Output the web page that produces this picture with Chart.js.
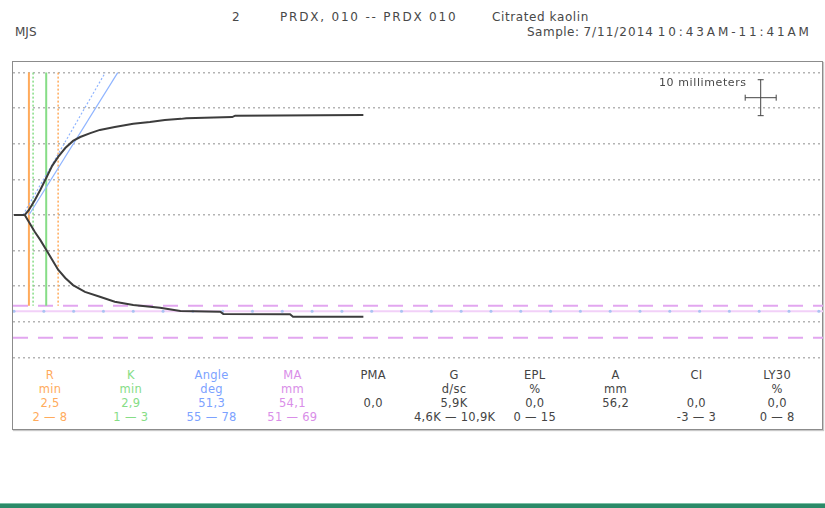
<!DOCTYPE html>
<html>
<head>
<meta charset="utf-8">
<script src="https://cdn.jsdelivr.net/npm/chart.js@4/dist/chart.umd.min.js"></script>
<style>
  body { margin: 0; width: 825px; height: 508px; background: #fff; position: relative; overflow: hidden;
         font-family: "DejaVu Sans", Verdana, sans-serif; color: #484848; }
  .t { position: absolute; font-size: 12px; line-height: 14px; white-space: nowrap; }
  #box { position: absolute; left: 12px; top: 61px; width: 809px; height: 367px; border: 1px solid #8c8c8c;
         box-shadow: 1px 1px 1px #c8c8c8; }
  #plot { position: absolute; left: 13px; top: 63px; }
  .col { position: absolute; top: 368px; width: 80px; text-align: center; font-size: 11.5px; line-height: 14px;
         letter-spacing: 0.3px; white-space: nowrap; }
  #bar { position: absolute; left: 0; top: 503px; width: 825px; height: 5px; background: #2b8a68; border-top: 1px solid #7cc0a6; }
</style>
</head>
<body>
<div class="t" style="left:232px;top:10px">2</div>
<div class="t" style="left:280px;top:10px;letter-spacing:1.8px">PRDX, 010 -- PRDX 010</div>
<div class="t" style="left:492px;top:10px;letter-spacing:0.6px">Citrated kaolin</div>
<div class="t" style="left:15px;top:25px">MJS</div>
<div class="t" style="left:527px;top:25px"><span style="letter-spacing:0.5px">Sample:</span>
  <span style="letter-spacing:1px">7/11/2014</span>
  <span style="letter-spacing:2.9px">10:43AM-11:41AM</span></div>
<div id="box"></div>
<canvas id="plot" width="810" height="300"></canvas>
<div class="t" style="left:659px;top:76px;font-size:11px;letter-spacing:0.6px">10 millimeters</div>
<div id="table"></div>
<div id="bar"></div>
<script>
// time in minutes, amplitude in mm (half of the trace width)
const upperTime = [0, 1.8, 2.5, 3.5, 4.4, 5.4, 6.4, 7.4, 8.6, 9.9, 11.1, 12.8, 14.4, 16.9, 20.0, 22.8, 25.3, 28.0, 28.9, 36.6, 37.1, 58.6];
const upperAmp  = [0, 0, 1.4, 4.2, 7.0, 10.4, 13.8, 16.3, 18.8, 20.8, 21.9, 23.0, 23.9, 24.7, 25.6, 26.1, 26.7, 27.0, 27.2, 27.5, 27.9, 28.1];
const lowerTime = [0, 1.8, 2.5, 3.5, 4.4, 5.4, 6.4, 7.4, 8.6, 9.9, 11.9, 14.4, 16.9, 20.0, 24.5, 27.9, 34.6, 35.1, 46.3, 46.8, 58.6];
const lowerAmp  = [0, 0, -2.0, -4.8, -7.0, -9.8, -12.6, -15.4, -17.7, -19.7, -21.6, -23.0, -24.4, -25.3, -26.1, -27.0, -27.2, -27.8, -27.9, -28.6, -28.6];

// marker lines (minutes)
const rTime = 2.5, rRefTime = 7.4, kTime = 5.4, kRefTime = 3.2;
const markerTop = 40, markerBottom = -25.5;
const angleLine = [[2.5, 0], [17.4, 40]];
const angleRefLine = [[1.5, 0], [15.3, 40]];

// MA reference range (half widths, mm) and measured MA half width
const maRange = [-25.5, -34.5];
const maHalf = -27.05;
const timeTicks = [0, 5, 10, 15, 20, 25, 30, 35, 40, 45, 50, 55, 60, 65, 70, 75, 80, 85, 90, 95, 100, 105, 110, 115, 120, 125, 130, 135];
const gridMM = [-40, -30, -20, -10, 0, 10, 20, 30, 40];

// 10 mm scale cross
const crossTime = [122.65, 127.85];
const crossAmp = [27.9, 38.0];

// results table
const paramNames  = ['R', 'K', 'Angle', 'MA', 'PMA', 'G', 'EPL', 'A', 'CI', 'LY30'];
const paramUnits  = ['min', 'min', 'deg', 'mm', '', 'd/sc', '%', 'mm', '', '%'];
const paramValues = ['2,5', '2,9', '51,3', '54,1', '0,0', '5,9K', '0,0', '56,2', '0,0', '0,0'];
const paramRanges = ['2 \u2014 8', '1 \u2014 3', '55 \u2014 78', '51 \u2014 69', '', '4,6K \u2014 10,9K', '0 \u2014 15', '', '-3 \u2014 3', '0 \u2014 8'];

const X_MIN = -0.17, X_MAX = 135.7;
const Y_MIN = -41.6, Y_MAX = 42.7;

const orange = '#ffab5c', green = '#86dd86', blue = '#8fb4ff', pink = '#e2a6f0';

function pts(xs, ys) { return xs.map((x, i) => ({x, y: ys[i]})); }
function seg(x0, y0, x1, y1) { return [{x: x0, y: y0}, {x: x1, y: y1}]; }
function line(data, color, width, dash, extra) {
  return Object.assign({ data, borderColor: color, borderWidth: width, borderDash: dash || [],
    pointRadius: 0, pointHoverRadius: 0, showLine: true, fill: false, tension: 0 }, extra || {});
}

const datasets = [
  line(pts(upperTime, upperAmp), '#3c3c3c', 2),
  line(pts(lowerTime, lowerAmp), '#3c3c3c', 2),
  line(seg(crossTime[0], (crossAmp[0] + crossAmp[1]) / 2, crossTime[1], (crossAmp[0] + crossAmp[1]) / 2), '#444', 1, [],
       { pointRadius: 3, pointStyle: 'line', rotation: 90, pointBorderColor: '#444', pointBorderWidth: 1 }),
  line(seg((crossTime[0] + crossTime[1]) / 2, crossAmp[0], (crossTime[0] + crossTime[1]) / 2, crossAmp[1]), '#444', 1, [],
       { pointRadius: 3, pointStyle: 'line', rotation: 0, pointBorderColor: '#444', pointBorderWidth: 1 }),
  line(seg(angleLine[0][0], angleLine[0][1], angleLine[1][0], angleLine[1][1]), blue, 1.2),
  line(seg(angleRefLine[0][0], angleRefLine[0][1], angleRefLine[1][0], angleRefLine[1][1]), blue, 1.2, [2, 2]),
  line(seg(rTime, markerTop, rTime, markerBottom), orange, 2),
  line(seg(rRefTime, markerTop, rRefTime, markerBottom), orange, 1.5, [2, 2]),
  line(seg(kTime, markerTop, kTime, markerBottom), green, 2),
  line(seg(kRefTime, markerTop, kRefTime, markerBottom), green, 1.5, [2, 2]),
  line(timeTicks.map(t => ({x: t, y: maHalf})), '#f2d0f8', 2, [],
       { showLine: false, pointRadius: 1.5, pointBackgroundColor: '#a9c4f2', pointBorderWidth: 0 }),
  line(seg(X_MIN, maHalf, X_MAX, maHalf), '#f2d0f8', 2),
  line(seg(X_MIN, maRange[0], X_MAX, maRange[0]), pink, 2, [15, 10]),
  line(seg(X_MIN, maRange[1], X_MAX, maRange[1]), pink, 2, [15, 10])
];

new Chart(document.getElementById('plot').getContext('2d'), {
  type: 'scatter',
  data: { datasets },
  options: {
    responsive: false,
    animation: false,
    events: [],
    layout: { padding: 0, autoPadding: false },
    plugins: { legend: { display: false }, tooltip: { enabled: false } },
    scales: {
      x: { type: 'linear', min: X_MIN, max: X_MAX, display: false },
      y: {
        type: 'linear', min: Y_MIN, max: Y_MAX,
        afterBuildTicks: s => { s.ticks = gridMM.map(v => ({value: v})); },
        afterFit: s => { s.width = 0; },
        ticks: { display: false },
        border: { display: false, dash: [2, 3] },
        grid: { color: '#b4b4b4', lineWidth: 1.5, drawTicks: false }
      }
    }
  }
});

const colColors = [orange, green, '#7ca2ff', '#d98ee8', '#444', '#444', '#444', '#444', '#444', '#444'];
const table = document.getElementById('table');
paramNames.forEach((name, i) => {
  const d = document.createElement('div');
  d.className = 'col';
  d.style.left = (10 + i * 80.8) + 'px';
  d.style.color = colColors[i];
  d.innerHTML = [name, paramUnits[i], paramValues[i], paramRanges[i]].map(s => s || '&nbsp;').join('<br>');
  table.appendChild(d);
});
</script>
</body>
</html>
